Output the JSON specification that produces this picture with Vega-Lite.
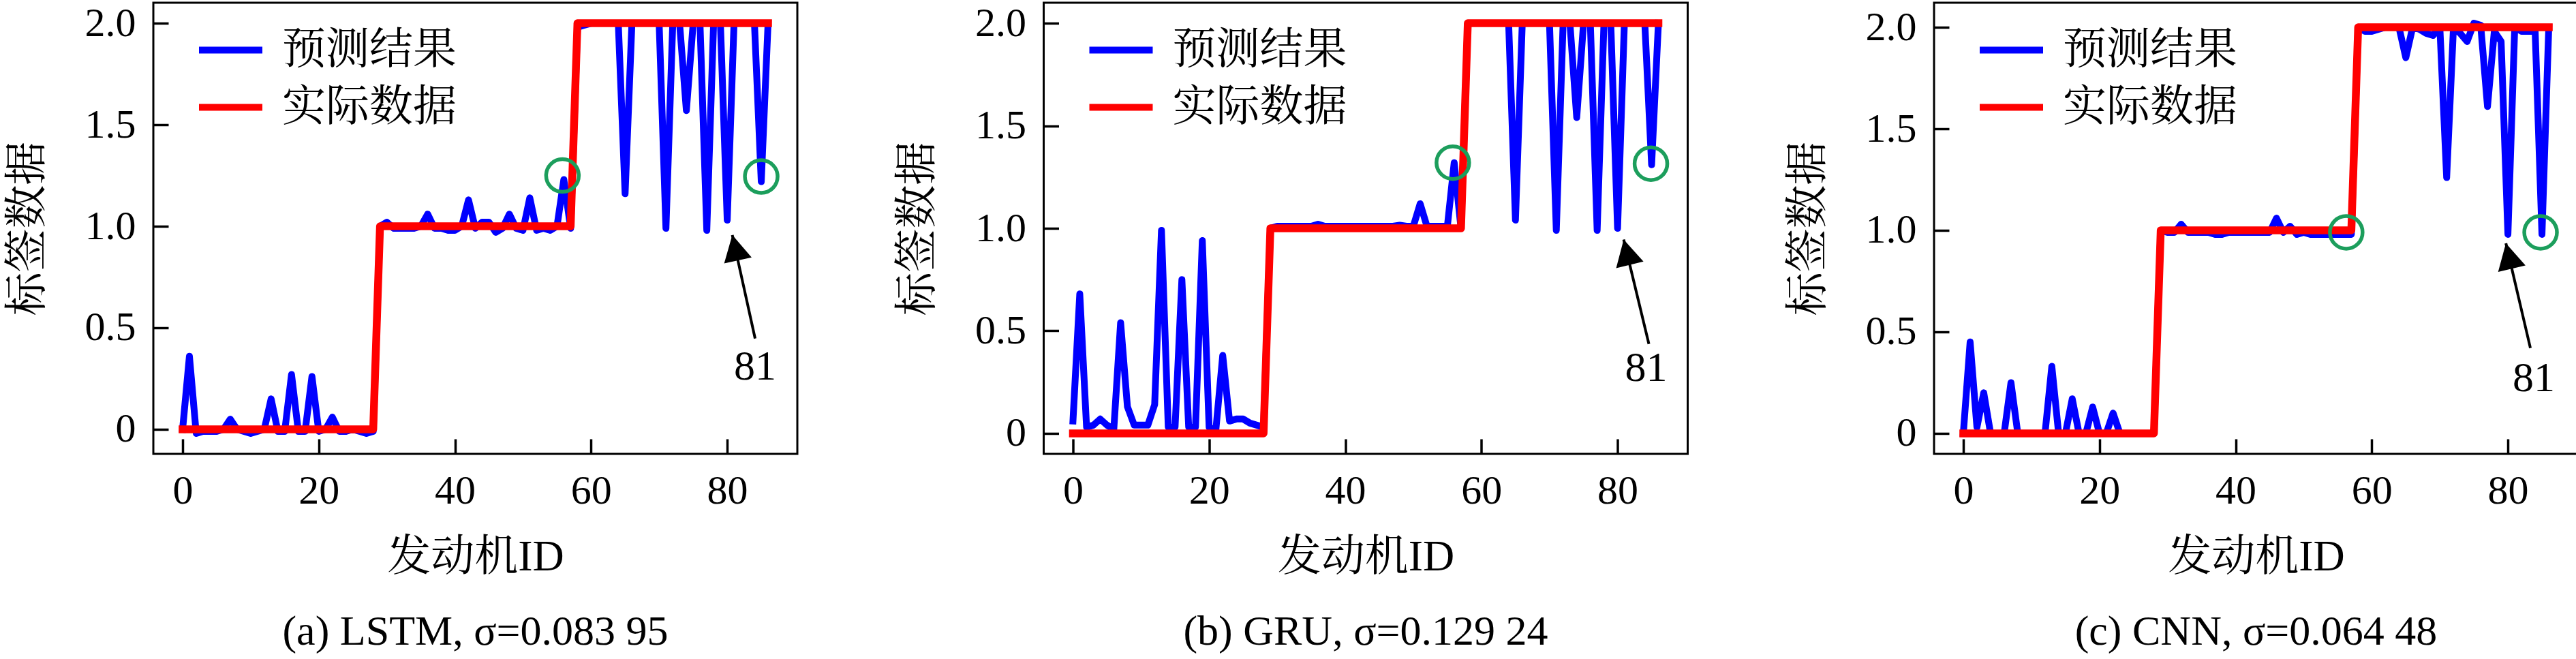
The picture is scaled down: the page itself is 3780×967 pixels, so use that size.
{
"$schema": "https://vega.github.io/schema/vega-lite/v6.json",
"padding": {"left": 6, "top": 2, "right": 0, "bottom": 0},
"spacing": 140.5,
"datasets": {
"actual": [{"id":0,"v":0},{"id":1,"v":0},{"id":2,"v":0},{"id":3,"v":0},{"id":4,"v":0},{"id":5,"v":0},{"id":6,"v":0},{"id":7,"v":0},{"id":8,"v":0},{"id":9,"v":0},{"id":10,"v":0},{"id":11,"v":0},{"id":12,"v":0},{"id":13,"v":0},{"id":14,"v":0},{"id":15,"v":0},{"id":16,"v":0},{"id":17,"v":0},{"id":18,"v":0},{"id":19,"v":0},{"id":20,"v":0},{"id":21,"v":0},{"id":22,"v":0},{"id":23,"v":0},{"id":24,"v":0},{"id":25,"v":0},{"id":26,"v":0},{"id":27,"v":0},{"id":28,"v":0},
{"id":29,"v":1},{"id":30,"v":1},{"id":31,"v":1},{"id":32,"v":1},{"id":33,"v":1},{"id":34,"v":1},{"id":35,"v":1},{"id":36,"v":1},{"id":37,"v":1},{"id":38,"v":1},{"id":39,"v":1},{"id":40,"v":1},{"id":41,"v":1},{"id":42,"v":1},{"id":43,"v":1},{"id":44,"v":1},{"id":45,"v":1},{"id":46,"v":1},{"id":47,"v":1},{"id":48,"v":1},{"id":49,"v":1},{"id":50,"v":1},{"id":51,"v":1},{"id":52,"v":1},{"id":53,"v":1},{"id":54,"v":1},{"id":55,"v":1},{"id":56,"v":1},{"id":57,"v":1},
{"id":58,"v":2},{"id":59,"v":2},{"id":60,"v":2},{"id":61,"v":2},{"id":62,"v":2},{"id":63,"v":2},{"id":64,"v":2},{"id":65,"v":2},{"id":66,"v":2},{"id":67,"v":2},{"id":68,"v":2},{"id":69,"v":2},{"id":70,"v":2},{"id":71,"v":2},{"id":72,"v":2},{"id":73,"v":2},{"id":74,"v":2},{"id":75,"v":2},{"id":76,"v":2},{"id":77,"v":2},{"id":78,"v":2},{"id":79,"v":2},{"id":80,"v":2},{"id":81,"v":2},{"id":82,"v":2},{"id":83,"v":2},{"id":84,"v":2},{"id":85,"v":2},{"id":86,"v":2}],
"lstm": [{"id":0,"v":0},{"id":1,"v":0.36},{"id":2,"v":-0.02},{"id":3,"v":-0.01},{"id":4,"v":-0.01},{"id":5,"v":-0.01},{"id":6,"v":0},{"id":7,"v":0.05},{"id":8,"v":0},{"id":9,"v":-0.01},{"id":10,"v":-0.02},{"id":11,"v":-0.01},{"id":12,"v":0},{"id":13,"v":0.15},{"id":14,"v":-0.01},{"id":15,"v":-0.01},{"id":16,"v":0.27},{"id":17,"v":-0.01},{"id":18,"v":-0.01},{"id":19,"v":0.26},{"id":20,"v":-0.01},{"id":21,"v":0},{"id":22,"v":0.06},{"id":23,"v":-0.01},{"id":24,"v":-0.01},{"id":25,"v":0},{"id":26,"v":-0.01},{"id":27,"v":-0.02},{"id":28,"v":-0.01},
{"id":29,"v":1.0},{"id":30,"v":1.02},{"id":31,"v":0.99},{"id":32,"v":0.99},{"id":33,"v":0.99},{"id":34,"v":0.99},{"id":35,"v":1.0},{"id":36,"v":1.06},{"id":37,"v":0.99},{"id":38,"v":0.99},{"id":39,"v":0.98},{"id":40,"v":0.98},{"id":41,"v":1.0},{"id":42,"v":1.13},{"id":43,"v":0.99},{"id":44,"v":1.02},{"id":45,"v":1.02},{"id":46,"v":0.97},{"id":47,"v":0.99},{"id":48,"v":1.06},{"id":49,"v":0.99},{"id":50,"v":0.98},{"id":51,"v":1.14},{"id":52,"v":0.98},{"id":53,"v":0.99},{"id":54,"v":0.98},{"id":55,"v":1.0},{"id":56,"v":1.23},{"id":57,"v":0.99},
{"id":58,"v":1.98},{"id":59,"v":1.99},{"id":60,"v":2},{"id":61,"v":2},{"id":62,"v":2},{"id":63,"v":2},{"id":64,"v":2},{"id":65,"v":1.16},{"id":66,"v":2},{"id":67,"v":2},{"id":68,"v":2},{"id":69,"v":2},{"id":70,"v":2},{"id":71,"v":0.99},{"id":72,"v":2},{"id":73,"v":2},{"id":74,"v":1.57},{"id":75,"v":2},{"id":76,"v":2},{"id":77,"v":0.98},{"id":78,"v":2},{"id":79,"v":2},{"id":80,"v":1.03},{"id":81,"v":2},{"id":82,"v":2},{"id":83,"v":2},{"id":84,"v":2},{"id":85,"v":1.22},{"id":86,"v":2}],
"gru": [{"id":0,"v":0.06},{"id":1,"v":0.68},{"id":2,"v":0.03},{"id":3,"v":0.04},{"id":4,"v":0.07},{"id":5,"v":0.04},{"id":6,"v":0.02},{"id":7,"v":0.54},{"id":8,"v":0.13},{"id":9,"v":0.04},{"id":10,"v":0.04},{"id":11,"v":0.04},{"id":12,"v":0.14},{"id":13,"v":0.99},{"id":14,"v":0.03},{"id":15,"v":0.03},{"id":16,"v":0.75},{"id":17,"v":0.03},{"id":18,"v":0.03},{"id":19,"v":0.94},{"id":20,"v":0.03},{"id":21,"v":0.02},{"id":22,"v":0.38},{"id":23,"v":0.06},{"id":24,"v":0.07},{"id":25,"v":0.07},{"id":26,"v":0.05},{"id":27,"v":0.04},{"id":28,"v":0.03},
{"id":29,"v":1.0},{"id":30,"v":1.01},{"id":31,"v":1.01},{"id":32,"v":1.01},{"id":33,"v":1.01},{"id":34,"v":1.01},{"id":35,"v":1.01},{"id":36,"v":1.02},{"id":37,"v":1.01},{"id":38,"v":1.01},{"id":39,"v":1.01},{"id":40,"v":1.01},{"id":41,"v":1.01},{"id":42,"v":1.01},{"id":43,"v":1.01},{"id":44,"v":1.01},{"id":45,"v":1.01},{"id":46,"v":1.01},{"id":47,"v":1.01},{"id":48,"v":1.015},{"id":49,"v":1.01},{"id":50,"v":1.01},{"id":51,"v":1.12},{"id":52,"v":1.01},{"id":53,"v":1.01},{"id":54,"v":1.01},{"id":55,"v":1.01},{"id":56,"v":1.32},{"id":57,"v":1.0},
{"id":58,"v":2},{"id":59,"v":2},{"id":60,"v":2},{"id":61,"v":2},{"id":62,"v":2},{"id":63,"v":2},{"id":64,"v":2},{"id":65,"v":1.04},{"id":66,"v":2},{"id":67,"v":2},{"id":68,"v":2},{"id":69,"v":2},{"id":70,"v":2},{"id":71,"v":0.99},{"id":72,"v":2},{"id":73,"v":2},{"id":74,"v":1.54},{"id":75,"v":2},{"id":76,"v":2},{"id":77,"v":0.99},{"id":78,"v":2},{"id":79,"v":2},{"id":80,"v":1.0},{"id":81,"v":2},{"id":82,"v":2},{"id":83,"v":2},{"id":84,"v":2},{"id":85,"v":1.31},{"id":86,"v":2}],
"cnn": [{"id":0,"v":0},{"id":1,"v":0.45},{"id":2,"v":0.03},{"id":3,"v":0.2},{"id":4,"v":0},{"id":5,"v":0},{"id":6,"v":0},{"id":7,"v":0.25},{"id":8,"v":0},{"id":9,"v":0},{"id":10,"v":0},{"id":11,"v":0},{"id":12,"v":0},{"id":13,"v":0.33},{"id":14,"v":0},{"id":15,"v":0},{"id":16,"v":0.17},{"id":17,"v":0},{"id":18,"v":0},{"id":19,"v":0.13},{"id":20,"v":0},{"id":21,"v":0},{"id":22,"v":0.1},{"id":23,"v":0},{"id":24,"v":0},{"id":25,"v":0},{"id":26,"v":0},{"id":27,"v":0},{"id":28,"v":0},
{"id":29,"v":1.0},{"id":30,"v":0.99},{"id":31,"v":0.99},{"id":32,"v":1.03},{"id":33,"v":0.99},{"id":34,"v":0.99},{"id":35,"v":0.99},{"id":36,"v":0.99},{"id":37,"v":0.98},{"id":38,"v":0.98},{"id":39,"v":0.99},{"id":40,"v":0.99},{"id":41,"v":0.99},{"id":42,"v":0.99},{"id":43,"v":0.99},{"id":44,"v":0.99},{"id":45,"v":0.99},{"id":46,"v":1.06},{"id":47,"v":0.99},{"id":48,"v":1.02},{"id":49,"v":0.98},{"id":50,"v":0.99},{"id":51,"v":0.98},{"id":52,"v":0.98},{"id":53,"v":0.98},{"id":54,"v":0.98},{"id":55,"v":0.98},{"id":56,"v":0.98},{"id":57,"v":0.98},
{"id":58,"v":2},{"id":59,"v":1.98},{"id":60,"v":1.98},{"id":61,"v":1.99},{"id":62,"v":2},{"id":63,"v":2},{"id":64,"v":2},{"id":65,"v":1.85},{"id":66,"v":2},{"id":67,"v":1.99},{"id":68,"v":1.97},{"id":69,"v":1.96},{"id":70,"v":2},{"id":71,"v":1.26},{"id":72,"v":2},{"id":73,"v":1.97},{"id":74,"v":1.93},{"id":75,"v":2.02},{"id":76,"v":2.01},{"id":77,"v":1.61},{"id":78,"v":1.98},{"id":79,"v":1.93},{"id":80,"v":0.98},{"id":81,"v":2},{"id":82,"v":1.98},{"id":83,"v":1.98},{"id":84,"v":1.98},{"id":85,"v":0.98},{"id":86,"v":2}],
"circ": [{"m":"LSTM","x":55.8,"y":1.25},{"m":"LSTM","x":85.0,"y":1.245},{"m":"GRU","x":55.8,"y":1.32},{"m":"GRU","x":84.9,"y":1.315},{"m":"CNN","x":56.25,"y":0.99},{"m":"CNN","x":84.8,"y":0.99}],
"arrow": [{"m":"LSTM","x":84.1,"y":0.447,"x2":80.75,"y2":0.957,"tx":84.1,"ty":0.31,"label":"81"},{"m":"GRU","x":84.6,"y":0.436,"x2":80.9,"y2":0.945,"tx":84.2,"ty":0.32,"label":"81"},{"m":"CNN","x":83.3,"y":0.42,"x2":79.7,"y2":0.936,"tx":83.8,"ty":0.27,"label":"81"}]
},
"hconcat": [
{
"width": 945, "height": 662,
"title": {"text": "(a) LSTM, σ=0.083 95"},
"layer": [
{"data": {"name": "lstm"}, "mark": {"type": "line", "strokeWidth": 10, "strokeJoin": "round", "strokeCap": "square"},
 "encoding": {
  "x": {"field": "id", "type": "quantitative", "scale": {"domain": [-4.3, 90.3], "nice": false, "zero": false}, "axis": {"values": [0,20,40,60,80], "title": "发动机ID", "labelPadding": 47, "titlePadding": 35}},
  "y": {"field": "v", "type": "quantitative", "scale": {"domain": [-0.121, 2.101], "nice": false, "zero": false}, "axis": {"values": [0,0.5,1,1.5,2], "labelExpr": "datum.value == 0 ? '0' : format(datum.value, '.1f')", "title": "标签数据", "labelPadding": 48, "titlePadding": 52}},
  "color": {"datum": "预测结果", "type": "nominal", "scale": {"domain": ["预测结果", "实际数据"], "range": ["#0000ff", "#ff0000"]}, "legend": {"title": null, "orient": "none", "legendX": 62, "legendY": 18, "symbolType": "stroke", "symbolStrokeWidth": 10, "symbolSize": 8649, "labelFont": "Noto Serif CJK SC, Noto Sans CJK SC", "labelFontSize": 64, "labelColor": "black", "labelOffset": 24, "rowPadding": -7, "padding": 0, "labelLimit": 0}}
 }},
{"data": {"name": "actual"}, "mark": {"type": "line", "strokeWidth": 11.5, "strokeJoin": "round", "strokeCap": "square"},
 "encoding": {"x": {"field": "id", "type": "quantitative"}, "y": {"field": "v", "type": "quantitative"}, "color": {"datum": "实际数据", "type": "nominal"}}},
{"data": {"name": "circ"}, "transform": [{"filter": "datum.m == 'LSTM'"}], "mark": {"type": "point", "shape": "circle", "filled": false, "stroke": "#1c9e5c", "strokeWidth": 5.5, "size": 2300, "opacity": 1},
 "encoding": {"x": {"field": "x", "type": "quantitative"}, "y": {"field": "y", "type": "quantitative"}}},
{"data": {"name": "arrow"}, "transform": [{"filter": "datum.m == 'LSTM'"}], "mark": {"type": "rule", "color": "black", "strokeWidth": 4},
 "encoding": {"x": {"field": "x", "type": "quantitative"}, "y": {"field": "y", "type": "quantitative"}, "x2": {"field": "x2"}, "y2": {"field": "y2"}}},
{"data": {"name": "arrow"}, "transform": [{"filter": "datum.m == 'LSTM'"}], "mark": {"type": "point", "shape": "M0,0L-1,1.85L1,1.85Z", "filled": true, "fill": "black", "strokeWidth": 0, "size": 1700, "angle": -12.4, "opacity": 1},
 "encoding": {"x": {"field": "x2", "type": "quantitative"}, "y": {"field": "y2", "type": "quantitative"}}},
{"data": {"name": "arrow"}, "transform": [{"filter": "datum.m == 'LSTM'"}], "mark": {"type": "text", "font": "Liberation Serif", "fontSize": 62, "align": "center", "baseline": "middle", "color": "black"},
 "encoding": {"x": {"field": "tx", "type": "quantitative"}, "y": {"field": "ty", "type": "quantitative"}, "text": {"field": "label"}}}
]
},
{
"width": 945, "height": 662,
"title": {"text": "(b) GRU, σ=0.129 24"},
"layer": [
{"data": {"name": "gru"}, "mark": {"type": "line", "strokeWidth": 10, "strokeJoin": "round", "strokeCap": "square"},
 "encoding": {
  "x": {"field": "id", "type": "quantitative", "scale": {"domain": [-4.3, 90.3], "nice": false, "zero": false}, "axis": {"values": [0,20,40,60,80], "title": "发动机ID", "labelPadding": 47, "titlePadding": 35}},
  "y": {"field": "v", "type": "quantitative", "scale": {"domain": [-0.1, 2.1], "nice": false, "zero": false}, "axis": {"values": [0,0.5,1,1.5,2], "labelExpr": "datum.value == 0 ? '0' : format(datum.value, '.1f')", "title": "标签数据", "labelPadding": 48, "titlePadding": 52}},
  "color": {"datum": "预测结果", "type": "nominal", "scale": {"domain": ["预测结果", "实际数据"], "range": ["#0000ff", "#ff0000"]}, "legend": {"title": null, "orient": "none", "legendX": 62, "legendY": 18, "symbolType": "stroke", "symbolStrokeWidth": 10, "symbolSize": 8649, "labelFont": "Noto Serif CJK SC, Noto Sans CJK SC", "labelFontSize": 64, "labelColor": "black", "labelOffset": 24, "rowPadding": -7, "padding": 0, "labelLimit": 0}}
 }},
{"data": {"name": "actual"}, "mark": {"type": "line", "strokeWidth": 11.5, "strokeJoin": "round", "strokeCap": "square"},
 "encoding": {"x": {"field": "id", "type": "quantitative"}, "y": {"field": "v", "type": "quantitative"}, "color": {"datum": "实际数据", "type": "nominal"}}},
{"data": {"name": "circ"}, "transform": [{"filter": "datum.m == 'GRU'"}], "mark": {"type": "point", "shape": "circle", "filled": false, "stroke": "#1c9e5c", "strokeWidth": 5.5, "size": 2300, "opacity": 1},
 "encoding": {"x": {"field": "x", "type": "quantitative"}, "y": {"field": "y", "type": "quantitative"}}},
{"data": {"name": "arrow"}, "transform": [{"filter": "datum.m == 'GRU'"}], "mark": {"type": "rule", "color": "black", "strokeWidth": 4},
 "encoding": {"x": {"field": "x", "type": "quantitative"}, "y": {"field": "y", "type": "quantitative"}, "x2": {"field": "x2"}, "y2": {"field": "y2"}}},
{"data": {"name": "arrow"}, "transform": [{"filter": "datum.m == 'GRU'"}], "mark": {"type": "point", "shape": "M0,0L-1,1.85L1,1.85Z", "filled": true, "fill": "black", "strokeWidth": 0, "size": 1700, "angle": -13.6, "opacity": 1},
 "encoding": {"x": {"field": "x2", "type": "quantitative"}, "y": {"field": "y2", "type": "quantitative"}}},
{"data": {"name": "arrow"}, "transform": [{"filter": "datum.m == 'GRU'"}], "mark": {"type": "text", "font": "Liberation Serif", "fontSize": 62, "align": "center", "baseline": "middle", "color": "black"},
 "encoding": {"x": {"field": "tx", "type": "quantitative"}, "y": {"field": "ty", "type": "quantitative"}, "text": {"field": "label"}}}
]
},
{
"width": 945, "height": 662,
"title": {"text": "(c) CNN, σ=0.064 48"},
"layer": [
{"data": {"name": "cnn"}, "mark": {"type": "line", "strokeWidth": 10, "strokeJoin": "round", "strokeCap": "square"},
 "encoding": {
  "x": {"field": "id", "type": "quantitative", "scale": {"domain": [-4.3, 90.3], "nice": false, "zero": false}, "axis": {"values": [0,20,40,60,80], "title": "发动机ID", "labelPadding": 47, "titlePadding": 35}},
  "y": {"field": "v", "type": "quantitative", "scale": {"domain": [-0.101, 2.121], "nice": false, "zero": false}, "axis": {"values": [0,0.5,1,1.5,2], "labelExpr": "datum.value == 0 ? '0' : format(datum.value, '.1f')", "title": "标签数据", "labelPadding": 48, "titlePadding": 52}},
  "color": {"datum": "预测结果", "type": "nominal", "scale": {"domain": ["预测结果", "实际数据"], "range": ["#0000ff", "#ff0000"]}, "legend": {"title": null, "orient": "none", "legendX": 62, "legendY": 18, "symbolType": "stroke", "symbolStrokeWidth": 10, "symbolSize": 8649, "labelFont": "Noto Serif CJK SC, Noto Sans CJK SC", "labelFontSize": 64, "labelColor": "black", "labelOffset": 24, "rowPadding": -7, "padding": 0, "labelLimit": 0}}
 }},
{"data": {"name": "actual"}, "mark": {"type": "line", "strokeWidth": 11.5, "strokeJoin": "round", "strokeCap": "square"},
 "encoding": {"x": {"field": "id", "type": "quantitative"}, "y": {"field": "v", "type": "quantitative"}, "color": {"datum": "实际数据", "type": "nominal"}}},
{"data": {"name": "circ"}, "transform": [{"filter": "datum.m == 'CNN'"}], "mark": {"type": "point", "shape": "circle", "filled": false, "stroke": "#1c9e5c", "strokeWidth": 5.5, "size": 2300, "opacity": 1},
 "encoding": {"x": {"field": "x", "type": "quantitative"}, "y": {"field": "y", "type": "quantitative"}}},
{"data": {"name": "arrow"}, "transform": [{"filter": "datum.m == 'CNN'"}], "mark": {"type": "rule", "color": "black", "strokeWidth": 4},
 "encoding": {"x": {"field": "x", "type": "quantitative"}, "y": {"field": "y", "type": "quantitative"}, "x2": {"field": "x2"}, "y2": {"field": "y2"}}},
{"data": {"name": "arrow"}, "transform": [{"filter": "datum.m == 'CNN'"}], "mark": {"type": "point", "shape": "M0,0L-1,1.85L1,1.85Z", "filled": true, "fill": "black", "strokeWidth": 0, "size": 1700, "angle": -13.2, "opacity": 1},
 "encoding": {"x": {"field": "x2", "type": "quantitative"}, "y": {"field": "y2", "type": "quantitative"}}},
{"data": {"name": "arrow"}, "transform": [{"filter": "datum.m == 'CNN'"}], "mark": {"type": "text", "font": "Liberation Serif", "fontSize": 62, "align": "center", "baseline": "middle", "color": "black"},
 "encoding": {"x": {"field": "tx", "type": "quantitative"}, "y": {"field": "ty", "type": "quantitative"}, "text": {"field": "label"}}}
]
}
],
"resolve": {"scale": {"color": "independent"}, "legend": {"color": "independent"}},
"config": {
 "background": "white",
 "view": {"stroke": "black", "strokeWidth": 3},
 "font": "Liberation Serif",
 "axis": {"grid": false, "domain": false, "tickColor": "black", "tickSize": -22, "tickWidth": 3.5, "labelColor": "black", "labelFont": "Liberation Serif", "labelFontSize": 60, "titleColor": "black", "titleFont": "Liberation Serif, Noto Serif CJK SC, Noto Sans CJK SC", "titleFontSize": 64, "titleFontWeight": "normal", "labelFlush": false, "labelOverlap": false},
 "title": {"font": "Liberation Serif", "fontSize": 62, "fontWeight": "normal", "color": "black", "orient": "bottom", "frame": "group", "anchor": "middle", "offset": 48}
}
}
